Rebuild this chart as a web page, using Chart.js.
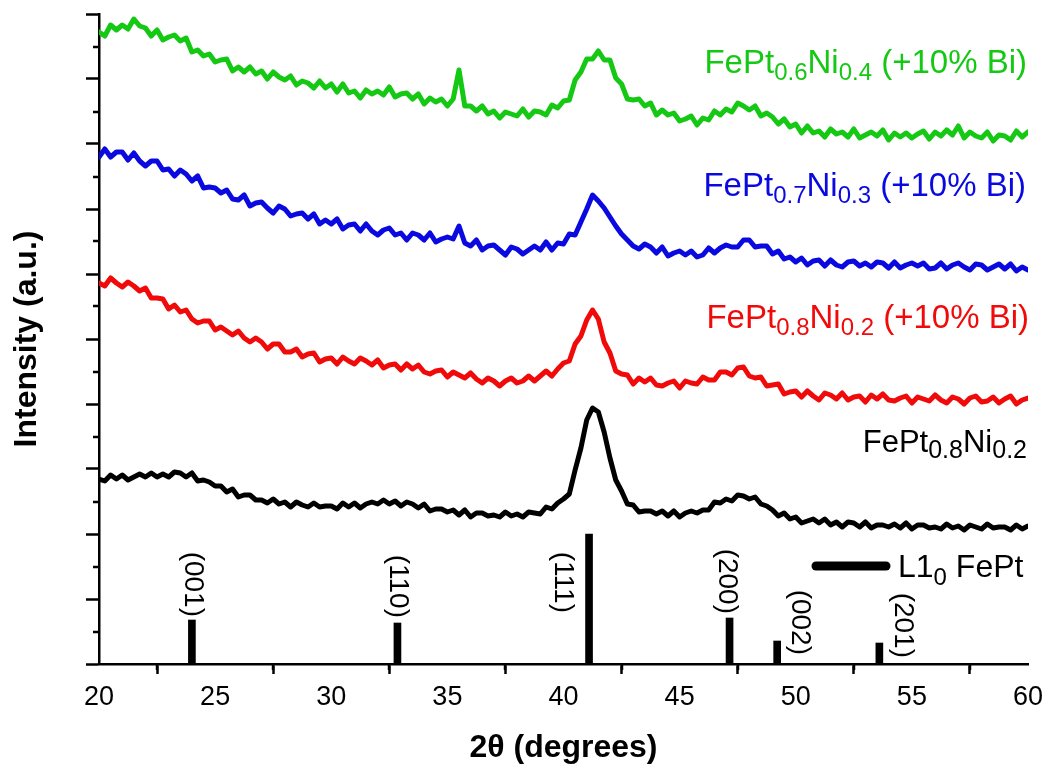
<!DOCTYPE html>
<html>
<head>
<meta charset="utf-8">
<script src="https://cdn.jsdelivr.net/npm/chart.js@4.4.1/dist/chart.umd.min.js"></script>
<style>
  html, body { margin: 0; padding: 0; background: #ffffff; }
  canvas { display: block; }
</style>
</head>
<body>
<canvas id="c" width="1045" height="770"></canvas>
<script>
// ---------------- DATA ----------------
// scan grid: 2-theta from 20 to 60 degrees, 0.25 degree step (161 points)
const scanStart = 20;
const scanEnd = 60;
const scanStep = 0.25;

// Intensities (a.u., stacked as plotted)
const intensityFePt08Ni02 = [
185,183,189,185,189,184,187,190,187,191,
187,190,187,192,191,187,191,183,184,182,
178,178,172,175,167,169,169,164,164,161,
165,160,162,157,162,159,157,161,157,158,
158,155,161,157,161,156,160,162,160,164,
160,163,158,162,160,156,160,153,155,155,
152,154,149,154,147,151,151,148,149,147,
152,148,150,147,152,151,150,157,155,161,
165,170,194,216,244,256,252,232,206,184,
173,160,159,152,153,153,150,153,148,153,
147,151,153,151,154,154,162,161,165,163,
169,168,165,167,160,158,154,148,151,145,
147,141,143,145,141,145,139,142,137,142,
141,137,142,136,139,139,137,140,136,141,
135,139,139,136,137,135,140,136,138,134,
139,137,135,140,136,137,137,134,139,135,
138];

const intensityFePt08Ni02Bi = [
381,378,386,381,377,382,378,373,376,366,
366,365,355,359,352,354,345,341,343,343,
334,337,333,329,333,326,322,326,322,315,
320,320,312,312,315,307,310,311,302,305,
306,300,307,303,300,306,303,299,304,296,
299,300,294,300,295,299,292,290,293,294,
287,292,289,286,291,285,281,286,283,278,
283,286,281,283,288,283,288,293,288,295,
301,303,320,328,344,354,345,322,311,293,
290,289,280,286,282,286,279,278,281,283,
276,283,281,280,287,284,284,292,292,289,
296,297,288,286,287,278,279,280,270,272,
273,267,273,268,264,271,269,265,271,264,
267,268,262,269,265,270,264,263,266,268,
261,267,265,263,269,264,261,267,265,260,
266,268,262,263,267,261,265,268,260,264,
266];

const intensityFePt07Ni03Bi = [
507,515,507,512,512,504,511,503,498,503,
503,494,495,488,494,490,483,488,476,477,
476,471,474,465,464,469,458,461,462,456,
451,458,455,448,450,451,445,450,440,444,
440,445,435,439,440,433,440,433,429,434,
436,429,431,424,431,429,424,431,422,425,
427,425,438,421,418,424,414,418,419,414,
409,417,415,410,414,418,414,422,414,421,
420,430,429,442,455,469,463,456,447,438,
430,424,418,415,420,417,411,417,408,411,
413,409,413,407,409,416,411,416,419,417,
417,424,424,417,418,418,410,413,405,407,
402,406,399,403,404,398,404,399,397,402,
403,398,401,397,402,401,396,402,396,399,
401,398,401,395,396,401,395,399,401,397,
394,400,399,394,397,400,395,400,393,397,
394];

const intensityFePt06Ni04Bi = [
632,628,639,634,639,635,645,638,636,628,
634,624,627,629,623,626,612,614,608,610,
602,604,605,593,597,592,597,590,593,585,
592,587,584,588,579,583,581,576,583,576,
580,572,580,571,573,566,574,570,573,569,
577,567,570,571,565,570,560,566,562,565,
558,565,594,558,558,553,558,550,553,546,
552,550,548,555,547,553,552,549,559,556,
563,564,584,592,605,605,613,604,604,586,
580,565,564,565,558,561,549,554,549,551,
543,545,548,539,546,544,553,549,555,552,
561,558,554,558,548,551,547,540,545,537,
540,531,538,531,533,527,535,530,532,527,
535,526,529,532,528,534,524,531,527,531,
526,530,533,525,532,528,534,529,538,526,
532,528,526,532,523,529,528,524,533,527,
532];

// L1_0 FePt reference pattern
const refPositions = [24.0, 32.85, 41.1, 47.15, 49.2, 53.6];
const refIntensity = [44, 41, 130, 46, 23, 21];
const refHkl = ['(001)', '(110)', '(111)', '(200)', '(002)', '(201)'];

// Series labels (text, isSubscript)
const labelFePt08Ni02 = [['FePt', 0], ['0.8', 1], ['Ni', 0], ['0.2', 1]];
const labelFePt08Ni02Bi = [['FePt', 0], ['0.8', 1], ['Ni', 0], ['0.2', 1], [' (+10% Bi)', 0]];
const labelFePt07Ni03Bi = [['FePt', 0], ['0.7', 1], ['Ni', 0], ['0.3', 1], [' (+10% Bi)', 0]];
const labelFePt06Ni04Bi = [['FePt', 0], ['0.6', 1], ['Ni', 0], ['0.4', 1], [' (+10% Bi)', 0]];
const labelRef = [['L1', 0], ['0', 1], [' FePt', 0]];

const xAxisTitle = '2θ (degrees)';
const yAxisTitle = 'Intensity (a.u.)';

// ---------------- BUILD ----------------
const FONT = '"Liberation Sans", Arial, Helvetica, sans-serif';
const twoTheta = [];
for (let i = 0; i < intensityFePt08Ni02.length; i++) twoTheta.push(scanStart + i * scanStep);

const curves = [
  { label: 'FePt0.8Ni0.2', values: intensityFePt08Ni02, color: '#000000', rich: labelFePt08Ni02,
    lab: { right: 1027, base: 452, main: 31, sub: 25, drop: 6 } },
  { label: 'FePt0.8Ni0.2 (+10% Bi)', values: intensityFePt08Ni02Bi, color: '#f00a0a', rich: labelFePt08Ni02Bi,
    lab: { right: 1029, base: 328, main: 33, sub: 24, drop: 7 } },
  { label: 'FePt0.7Ni0.3 (+10% Bi)', values: intensityFePt07Ni03Bi, color: '#0a0ae0', rich: labelFePt07Ni03Bi,
    lab: { right: 1026, base: 196, main: 33, sub: 24, drop: 7 } },
  { label: 'FePt0.6Ni0.4 (+10% Bi)', values: intensityFePt06Ni04Bi, color: '#14c814', rich: labelFePt06Ni04Bi,
    lab: { right: 1027, base: 73, main: 33, sub: 24, drop: 7 } }
];

function drawRich(ctx, segs, x, yBase, opt, color, align) {
  const parts = segs.map(([t, sub]) => {
    ctx.font = (sub ? opt.sub : opt.main) + 'px ' + FONT;
    return { t, sub, w: ctx.measureText(t).width };
  });
  const total = parts.reduce((a, p) => a + p.w, 0);
  let cx = align === 'right' ? x - total : x;
  ctx.fillStyle = color;
  ctx.textAlign = 'left';
  ctx.textBaseline = 'alphabetic';
  for (const p of parts) {
    ctx.font = (p.sub ? opt.sub : opt.main) + 'px ' + FONT;
    ctx.fillText(p.t, cx, yBase + (p.sub ? opt.drop : 0));
    cx += p.w;
  }
}

const minorTicks = {
  id: 'minorTicks',
  afterDraw(chart) {
    const { ctx, scales: { x, y } } = chart;
    ctx.save();
    ctx.strokeStyle = '#000';
    ctx.lineWidth = 2.5;
    const xt = x.ticks.map(t => t.value);
    for (let i = 0; i < xt.length - 1; i++) {
      const px = Math.round(x.getPixelForValue((xt[i] + xt[i + 1]) / 2));
      ctx.beginPath(); ctx.moveTo(px, x.top); ctx.lineTo(px, x.top + 6); ctx.stroke();
    }
    const yt = y.ticks.map(t => t.value);
    for (let i = 0; i < yt.length - 1; i++) {
      const py = Math.round(y.getPixelForValue((yt[i] + yt[i + 1]) / 2));
      ctx.beginPath(); ctx.moveTo(y.right - 6, py); ctx.lineTo(y.right, py); ctx.stroke();
    }
    ctx.restore();
  }
};

// hkl label placement (style): x offset from stick (px), label end (px above axis)
const hklStyle = [
  { dx: 1, mode: 'top', gap: 3 },
  { dx: 0, mode: 'top', gap: 5 },
  { dx: -26, mode: 'fixed', end: 51 },
  { dx: -3, mode: 'top', gap: 4 },
  { dx: 23, mode: 'fixed', end: 9 },
  { dx: 23, mode: 'fixed', end: 6 }
];

const annotations = {
  id: 'annotations',
  afterDraw(chart) {
    const { ctx, scales: { x, y } } = chart;
    ctx.save();
    ctx.font = '28px ' + FONT;
    ctx.fillStyle = '#000';
    refHkl.forEach((t, i) => {
      const st = hklStyle[i];
      const cx = x.getPixelForValue(refPositions[i]) + st.dx;
      const yEnd = st.mode === 'top'
        ? y.getPixelForValue(refIntensity[i]) - st.gap
        : y.getPixelForValue(0) - st.end;
      ctx.save();
      ctx.translate(cx, yEnd);
      ctx.rotate(Math.PI / 2);
      ctx.textAlign = 'right';
      ctx.textBaseline = 'middle';
      ctx.fillText(t, 0, 0);
      ctx.restore();
    });
    curves.forEach(c => drawRich(ctx, c.rich, c.lab.right, c.lab.base, c.lab, c.color, 'right'));
    ctx.strokeStyle = '#000';
    ctx.lineWidth = 9;
    ctx.lineCap = 'round';
    ctx.beginPath(); ctx.moveTo(816, 566); ctx.lineTo(886, 566); ctx.stroke();
    drawRich(ctx, labelRef, 898, 577, { main: 32, sub: 24, drop: 8 }, '#000', 'left');
    ctx.restore();
  }
};

const datasets = [
  {
    type: 'bar',
    label: 'L10 FePt',
    data: refPositions.map((p, i) => ({ x: p, y: refIntensity[i] })),
    backgroundColor: '#000000',
    borderWidth: 0,
    barThickness: 7
  }
].concat(curves.map(c => ({
  type: 'line',
  label: c.label,
  data: twoTheta.map((t, i) => ({ x: t, y: c.values[i] })),
  borderColor: c.color,
  borderWidth: 5,
  pointRadius: 0,
  fill: false,
  tension: 0,
  borderJoinStyle: 'round',
  borderCapStyle: 'round'
})));

new Chart(document.getElementById('c').getContext('2d'), {
  type: 'line',
  data: { datasets },
  options: {
    responsive: false,
    animation: false,
    events: [],
    layout: { padding: { left: 0, top: 14, right: 17, bottom: 0 } },
    plugins: { legend: { display: false }, tooltip: { enabled: false } },
    scales: {
      x: {
        type: 'linear', position: 'bottom', min: scanStart, max: scanEnd, offset: false,
        ticks: { stepSize: 5, font: { size: 27, family: FONT }, color: '#000', padding: 7, maxRotation: 0, autoSkip: false },
        grid: { drawOnChartArea: false, drawTicks: true, tickLength: 10, tickWidth: 2.5, tickColor: '#000' },
        border: { display: true, color: '#000', width: 2.5 },
        title: { display: true, text: xAxisTitle, font: { size: 32, weight: 'bold', family: FONT }, color: '#000', padding: { top: 0, bottom: 3 } },
        afterFit(s) { s.height = 106; s.paddingLeft = 0; s.paddingRight = 0; }
      },
      y: {
        type: 'linear', position: 'left', min: 0, max: 650,
        ticks: { stepSize: 65, display: false },
        grid: { drawOnChartArea: false, drawTicks: true, tickLength: 13, tickWidth: 2.5, tickColor: '#000' },
        border: { display: true, color: '#000', width: 2.5 },
        title: { display: true, text: yAxisTitle, font: { size: 32, weight: 'bold', family: FONT }, color: '#000', padding: { top: 8, bottom: 0 } },
        afterFit(s) { s.width = 99; s.paddingTop = 0; s.paddingBottom = 0; }
      }
    }
  },
  plugins: [minorTicks, annotations]
});
</script>
</body>
</html>
